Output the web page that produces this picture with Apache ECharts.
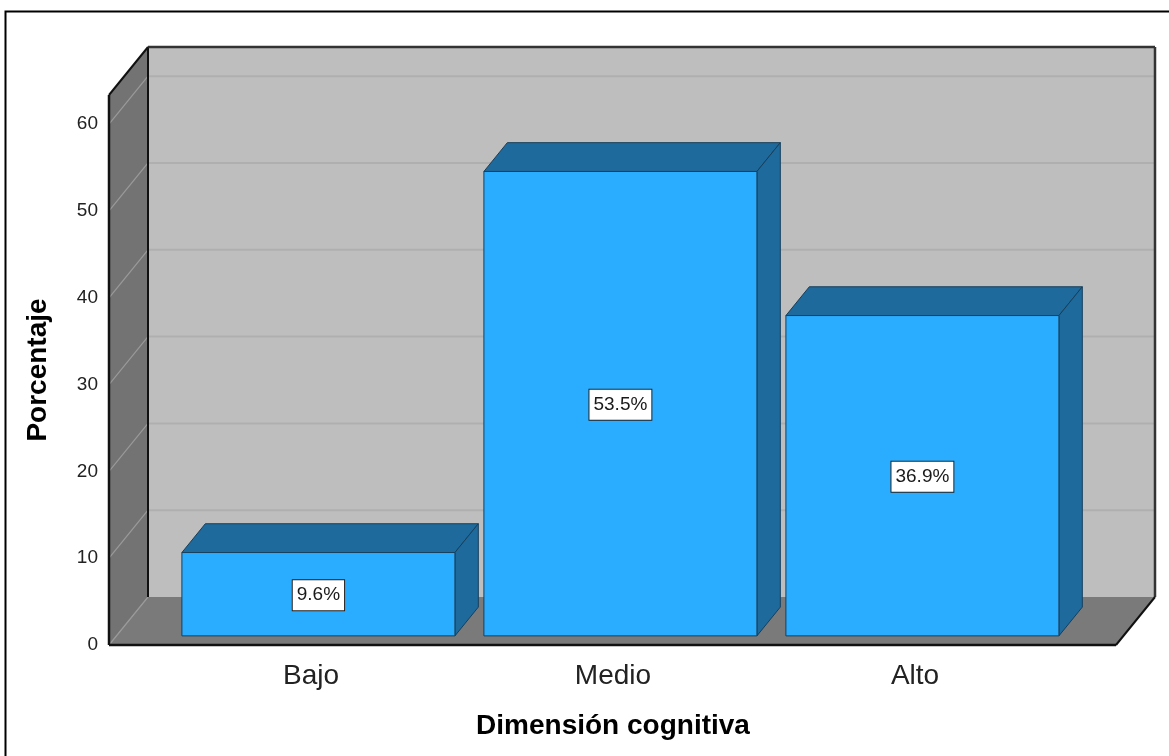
<!DOCTYPE html>
<html>
<head>
<meta charset="utf-8">
<script src="https://cdn.jsdelivr.net/npm/echarts@6/dist/echarts.min.js"></script>
<style>
  html, body { margin: 0; padding: 0; background: #fff; }
  #chart { width: 1169px; height: 756px; }
</style>
</head>
<body>
<div id="chart"></div>
<script>
// Data
const categories = ['Bajo', 'Medio', 'Alto'];
const percentages = [9.6, 53.5, 36.9];
const yTicks = [0, 10, 20, 30, 40, 50, 60];
const xTitle = 'Dimensión cognitiva';
const yTitle = 'Porcentaje';

// Look of the 3D box
const FONT = '"Liberation Sans", Arial, sans-serif';
const DEPTH_X = 39, DEPTH_Y = 48;      // front plane -> back wall offset (px)
const BAR_Z0 = 0.19, BAR_Z1 = 0.79;    // bars occupy this slice of the depth
const PAD_L = 51, PAD_R = 50;          // box extends past the category bands
const Y_MAX = 63.36;

const C_BACK = '#bebebe', C_SIDE = '#737373', C_FLOOR = '#7a7a7a';
const C_BACK_GRID = '#afafaf', C_SIDE_GRID = '#9a9a9a';
const C_BAR = '#2badff', C_BAR_DARK = '#1f6a9c', C_BAR_EDGE = '#173f5c';

function line(x1, y1, x2, y2, stroke, w) {
  return { type: 'line', shape: { x1, y1, x2, y2 }, style: { stroke, lineWidth: w } };
}
function poly(points, fill, stroke) {
  return { type: 'polygon', shape: { points }, style: { fill, stroke: stroke || null, lineWidth: 1 } };
}

// Walls, floor, gridlines and the outline of the box
function renderBox(params, api) {
  const cs = params.coordSys;
  const xl = cs.x - PAD_L, xr = cs.x + cs.width + PAD_R;
  const y0 = api.coord([0, 0])[1];
  const yT = api.coord([0, Y_MAX])[1];
  const dx = DEPTH_X, dy = DEPTH_Y;
  const els = [];
  els.push({ type: 'rect', shape: { x: xl + dx, y: yT - dy, width: xr - xl, height: y0 - yT }, style: { fill: C_BACK } });
  els.push(poly([[xl, y0], [xl, yT], [xl + dx, yT - dy], [xl + dx, y0 - dy]], C_SIDE));
  els.push(poly([[xl, y0], [xl + dx, y0 - dy], [xr + dx, y0 - dy], [xr, y0]], C_FLOOR));
  yTicks.forEach(function (v) {
    const y = api.coord([0, v])[1];
    if (v > 0) els.push(line(xl + dx, y - dy, xr + dx, y - dy, C_BACK_GRID, 2));
    els.push(line(xl, y, xl + dx, y - dy, C_SIDE_GRID, 1.2));
  });
  els.push(line(xl + dx, yT - dy, xl + dx, y0 - dy, '#111', 2));
  els.push(line(xl + dx, yT - dy, xr + dx, yT - dy, '#333', 2.5));
  els.push(line(xr + dx, yT - dy, xr + dx, y0 - dy, '#333', 2.5));
  els.push(line(xl, yT, xl + dx, yT - dy, '#111', 2));
  els.push(line(xl, y0, xl, yT, '#111', 2.5));
  els.push(line(xl, y0, xr, y0, '#111', 2.5));
  els.push(line(xr, y0, xr + dx, y0 - dy, '#111', 2));
  return { type: 'group', children: els };
}

// One 3D bar with its value label
function renderBar(params, api) {
  const i = api.value(0), v = api.value(1);
  const base = api.coord([i, 0]);
  const top = api.coord([i, v]);
  const w = api.size([1, 0])[0] * 0.904;
  const fx = DEPTH_X * BAR_Z0, fy = DEPTH_Y * BAR_Z0;
  const ddx = DEPTH_X * (BAR_Z1 - BAR_Z0), ddy = DEPTH_Y * (BAR_Z1 - BAR_Z0);
  const L = base[0] - w / 2 + fx, R = base[0] + w / 2 + fx;
  const B = base[1] - fy, T = top[1] - fy;
  return {
    type: 'group',
    children: [
      poly([[L, T], [L + ddx, T - ddy], [R + ddx, T - ddy], [R, T]], C_BAR_DARK, C_BAR_EDGE),
      poly([[R, T], [R + ddx, T - ddy], [R + ddx, B - ddy], [R, B]], C_BAR_DARK, C_BAR_EDGE),
      { type: 'rect', shape: { x: L, y: T, width: R - L, height: B - T }, style: { fill: C_BAR, stroke: C_BAR_EDGE, lineWidth: 1 } },
      {
        type: 'text', x: (L + R) / 2, y: (T + B) / 2 + 1,
        style: {
          text: v.toFixed(1) + '%', font: '19px ' + FONT, fill: '#1a1a1a',
          align: 'center', verticalAlign: 'middle',
          backgroundColor: '#fff', borderColor: '#222', borderWidth: 1, padding: [6, 4, 5, 4]
        }
      }
    ]
  };
}

const chart = echarts.init(document.getElementById('chart'), null, { renderer: 'canvas' });
chart.setOption({
  backgroundColor: '#fff',
  animation: false,
  graphic: [{
    type: 'rect', z: -10, silent: true,
    shape: { x: 5.5, y: 11.5, width: 1200, height: 800 },
    style: { fill: 'none', stroke: '#000', lineWidth: 2 }
  }],
  grid: { left: 160, right: 103, top: 95, bottom: 111 },
  xAxis: {
    type: 'category',
    data: categories,
    axisLine: { show: false },
    axisTick: { show: false },
    axisLabel: { fontFamily: FONT, fontSize: 28, color: '#222', margin: 17 },
    name: xTitle,
    nameLocation: 'middle',
    nameGap: 67,
    nameTextStyle: { fontFamily: FONT, fontSize: 28, fontWeight: 'bold', color: '#000' }
  },
  yAxis: {
    type: 'value',
    min: 0,
    max: Y_MAX,
    interval: 10,
    axisLine: { show: false },
    axisTick: { show: false },
    splitLine: { show: false },
    axisLabel: {
      fontFamily: FONT, fontSize: 19, color: '#222', margin: 62,
      showMaxLabel: false, padding: [9, 0, 0, 0],
      formatter: function (v) { return yTicks.indexOf(v) >= 0 ? String(v) : ''; }
    },
    name: yTitle,
    nameLocation: 'middle',
    nameGap: 108,
    nameTextStyle: { fontFamily: FONT, fontSize: 28, fontWeight: 'bold', color: '#000' }
  },
  series: [
    {
      type: 'custom', z: 1, silent: true,
      renderItem: renderBox,
      data: [[0, 0]]
    },
    {
      type: 'custom', z: 2, silent: true,
      renderItem: renderBar,
      encode: { x: 0, y: 1 },
      data: percentages.map(function (p, i) { return [i, p]; })
    }
  ]
});
</script>
</body>
</html>
